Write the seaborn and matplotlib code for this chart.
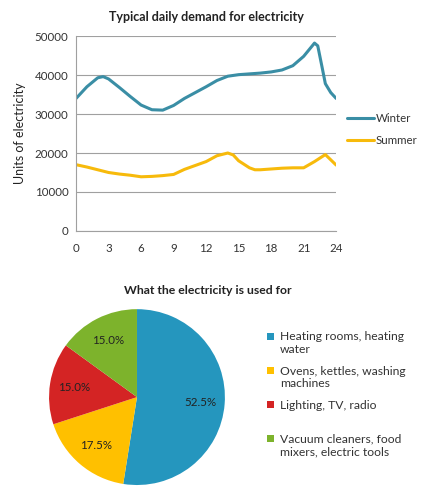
import numpy as np
import pandas as pd
import matplotlib
matplotlib.use("Agg")
import matplotlib.pyplot as plt
import seaborn as sns

# values
winter_hours = [0, 1, 2, 2.5, 3, 4, 5, 6, 7, 8, 9, 10, 11, 12, 13, 14, 15, 16,
                17, 18, 19, 20, 21, 21.5, 22, 22.3, 22.7, 23, 23.5, 24]
winter_units = [34000, 37000, 39300, 39600, 39000, 36800, 34500, 32300, 31100,
                31000, 32200, 34000, 35500, 37000, 38600, 39700, 40100, 40300,
                40500, 40800, 41300, 42400, 44800, 46500, 48200, 47500, 42000,
                37800, 35500, 34000]
summer_hours = [0, 1, 2, 3, 4, 5, 6, 7, 8, 9, 10, 11, 12, 13, 14, 14.5, 15, 16,
                16.5, 17, 18, 19, 20, 21, 22, 23, 24]
summer_units = [17000, 16400, 15700, 15000, 14600, 14300, 13900, 14000, 14200,
                14500, 15800, 16800, 17800, 19300, 20000, 19500, 18000, 16200,
                15700, 15700, 15900, 16100, 16200, 16200, 17800, 19600, 16900]
x_ticks = [0, 3, 6, 9, 12, 15, 18, 21, 24]
y_ticks = [0, 10000, 20000, 30000, 40000, 50000]

uses = ["Heating rooms, heating\nwater",
        "Ovens, kettles, washing\nmachines",
        "Lighting, TV, radio\n ",
        "Vacuum cleaners, food\nmixers, electric tools"]
shares = [52.5, 17.5, 15.0, 15.0]
pie_colors = ["#2596BE", "#FFC000", "#D42424", "#7DB32C"]

sns.set_theme(style="white")
plt.rcParams['font.family'] = ['Lato', 'DejaVu Sans']

fig = plt.figure(figsize=(4.25, 5.01), dpi=100)

# ---- line chart ----
df = pd.concat([
    pd.DataFrame({'hour': winter_hours, 'units': winter_units, 'season': 'Winter'}),
    pd.DataFrame({'hour': summer_hours, 'units': summer_units, 'season': 'Summer'}),
])
ax1 = fig.add_axes([0.179, 0.539, 0.612, 0.389])
sns.lineplot(data=df, x='hour', y='units', hue='season', sort=False,
             palette={'Winter': '#3A8EA5', 'Summer': '#F7BA0B'},
             linewidth=2.2, ax=ax1)
ax1.set_xlim(0, 24)
ax1.set_ylim(0, 50000)
ax1.set_xticks(x_ticks)
ax1.set_yticks(y_ticks)
ax1.yaxis.grid(True, color='#A0A0A0', linewidth=0.8)
ax1.set_axisbelow(True)
for s in ['top', 'right']:
    ax1.spines[s].set_visible(False)
for s in ['left', 'bottom']:
    ax1.spines[s].set_color('#A0A0A0')
    ax1.spines[s].set_linewidth(0.8)
ax1.tick_params(axis='both', labelsize=8.3, colors='#333333',
                length=3, width=0.8, direction='inout')
ax1.tick_params(axis='x', pad=7, color='#A0A0A0')
ax1.tick_params(axis='y', pad=4, color='#A0A0A0')
ax1.set_xlabel('')
ax1.set_ylabel('Units of electricity', fontsize=9, color='#222222', labelpad=6)
ax1.set_title('Typical daily demand for electricity', fontsize=9,
              fontweight='bold', color='#222222', pad=11)
leg = ax1.legend(loc='center left', bbox_to_anchor=(1.0, 0.52), frameon=False,
                 fontsize=8.3, handlelength=2.4, handletextpad=0.1,
                 labelspacing=1.0, title=None)
for t in leg.get_texts():
    t.set_color('#333333')

# ---- pie chart ----
ax2 = fig.add_axes([0.1153, 0.0319, 0.414, 0.351])
wedges, texts, autotexts = ax2.pie(shares, colors=pie_colors, startangle=90,
                                   counterclock=False, autopct='%1.1f%%',
                                   pctdistance=0.72,
                                   textprops={'fontsize': 8.3, 'color': '#222222'},
                                   wedgeprops={'linewidth': 0})
ax2.set_xlim(-1.0, 1.0)
ax2.set_ylim(-1.0, 1.0)
ax2.set_aspect('equal')
fig.text(0.49, 0.42, 'What the electricity is used for', ha='center',
         va='center', fontsize=8.8, fontweight='bold', color='#222222')
leg2 = ax2.legend(wedges, uses, loc='upper left', bbox_to_anchor=(1.18, 0.935),
                  frameon=False, fontsize=8.7, handlelength=0.55,
                  handleheight=0.55, handletextpad=0.5, labelspacing=0.85)
for t in leg2.get_texts():
    t.set_color('#333333')
# lift the square markers to the first line of each label
for p in leg2.get_patches():
    p.set_y(p.get_y() + 5.2)

fig.savefig('out.png', dpi=100, facecolor='white')
